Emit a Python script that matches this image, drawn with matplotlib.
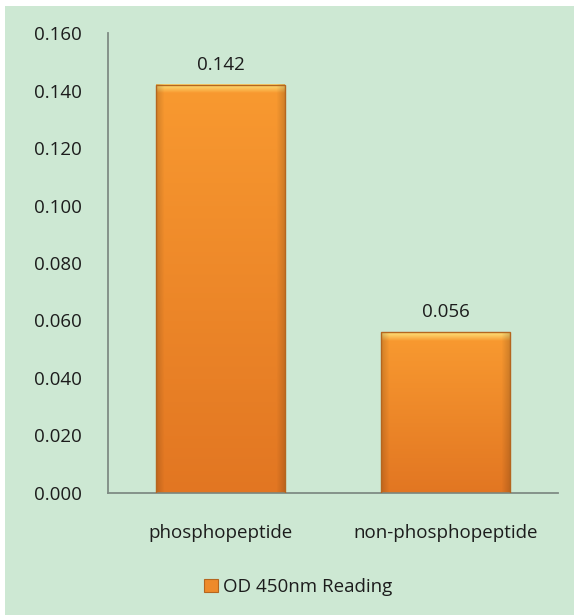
"""OD 450nm reading: phosphopeptide vs non-phosphopeptide bar chart."""

import matplotlib
import matplotlib.pyplot as plt
import numpy as np
from matplotlib.patches import Rectangle

matplotlib.use("Agg")

categories = ["phosphopeptide", "non-phosphopeptide"]
od_values = [0.142, 0.056]
value_labels = ["0.142", "0.056"]
y_ticks = [0.000, 0.020, 0.040, 0.060, 0.080, 0.100, 0.120, 0.140, 0.160]
series_name = "OD 450nm Reading"

BG = "#cde8d3"
TEXT = "#1c1c1c"
FONT = ["Open Sans", "DejaVu Sans"]

plt.rcParams["font.family"] = FONT


def bar_gradient(w_px, h_px):
    # vertical colour profile: pale yellow rim on top, orange body, darker base
    top = np.array([253, 214, 110]) / 255
    mid = np.array([248, 153, 48]) / 255
    low = np.array([226, 118, 34]) / 255
    rows = np.arange(h_px)[:, None]
    t = np.clip((rows - 7) / max(h_px - 7, 1), 0, 1)
    body = mid * (1 - t) + low * t
    rim = np.clip(1.2 - rows / 7.0, 0, 1)
    col = body * (1 - rim) + top * rim
    col = np.repeat(col[:, None, :], w_px, axis=1)
    # darker sides
    xs = np.arange(w_px)
    edge = np.minimum(xs, w_px - 1 - xs)
    shade = 1 - 0.15 * np.clip(1 - edge / 8.0, 0, 1)
    col = col * shade[None, :, None]
    return np.clip(col, 0, 1)


fig = plt.figure(figsize=(5.74, 6.15), dpi=100, facecolor="white")
fig.patches.append(Rectangle((5 / 574, 0), 1, (615 - 6) / 615,
                             transform=fig.transFigure, facecolor=BG,
                             edgecolor="none", zorder=-10))

ax = fig.add_axes([108 / 574, 0.1984, 450 / 574, 0.9463 - 0.1984])
ax.set_facecolor("none")
ax.set_xlim(-0.5, 1.5)
ax.set_ylim(0, 0.16)

x = np.arange(len(categories))
width = 0.57
bars = ax.bar(x, od_values, width=width, facecolor="none",
              edgecolor="#b5661f", linewidth=1.0, zorder=3)

fig.canvas.draw()
for b in bars:
    (x0, y0), (x1, y1) = ax.transData.transform(
        [(b.get_x(), 0), (b.get_x() + b.get_width(), b.get_height())])
    img = bar_gradient(int(round(x1 - x0)), int(round(y1 - y0)))
    ax.imshow(img, extent=(b.get_x(), b.get_x() + b.get_width(), 0, b.get_height()),
              aspect="auto", zorder=2, interpolation="bilinear")
    # soft shadow
    ax.add_patch(Rectangle((b.get_x() + 0.008, 0), b.get_width(), b.get_height() - 0.0008,
                           facecolor="#7a6a50", alpha=0.25, edgecolor="none", zorder=1))

ax.set_xlim(-0.5, 1.5)
ax.set_ylim(0, 0.16)

for xi, v, lab in zip(x, od_values, value_labels):
    ax.annotate(lab, (xi, v), xytext=(0, 8), textcoords="offset points",
                ha="center", va="bottom", fontsize=13.5, color=TEXT)

ax.set_yticks(y_ticks)
ax.set_yticklabels([f"{t:.3f}" for t in y_ticks])
ax.set_xticks(x)
ax.set_xticklabels(categories)
ax.tick_params(axis="y", length=0, pad=19, labelsize=13.5, labelcolor=TEXT)
ax.tick_params(axis="x", length=0, pad=22, labelsize=13.5, labelcolor=TEXT)

for side in ["top", "right"]:
    ax.spines[side].set_visible(False)
for side in ["left", "bottom"]:
    ax.spines[side].set_color("#7f8c84")
    ax.spines[side].set_linewidth(1.3)

handle = Rectangle((0, 0), 1, 1, facecolor="#ee8a2a", edgecolor="#b5661f", linewidth=0.8)
fig.legend([handle], [series_name], loc="center", bbox_to_anchor=(298 / 574, 28 / 615),
           frameon=False, fontsize=13.5, handlelength=0.75, handleheight=0.75,
           handletextpad=0.3, labelcolor=TEXT)

fig.savefig("out.png", dpi=100, facecolor=fig.get_facecolor())
